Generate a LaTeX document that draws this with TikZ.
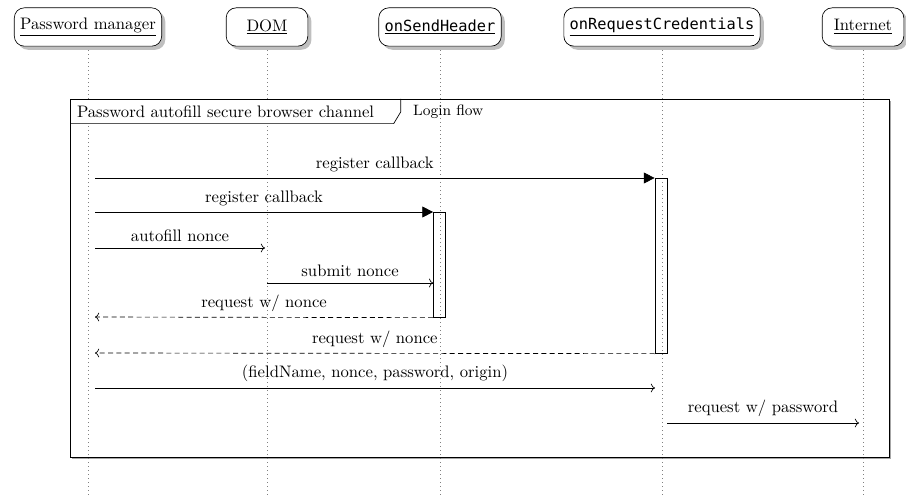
\documentclass[tikz,border=0pt]{standalone}
\usepackage{fontspec}
\setmonofont[Scale=0.92]{DejaVu Sans Mono}
\usetikzlibrary{positioning,shadows,arrows.meta}
\tikzstyle{inst} = [draw, rectangle, rounded corners=6pt, fill=white, drop shadow, minimum width=49pt, minimum height=23pt, inner xsep=3.5pt]
\tikzstyle{lifeline} = [draw, dotted, gray]
\tikzstyle{frame} = [draw, fill=white, drop shadow={shadow xshift=1pt, shadow yshift=-1pt, opacity=0.7}]
\tikzstyle{act} = [draw, rectangle, minimum width=7.2pt, inner sep=0pt, anchor=north]
\tikzstyle{call} = [draw, -{Triangle[length=6.5pt,width=6.5pt]}]
\tikzstyle{msg} = [draw, ->]
\tikzstyle{reply} = [draw, dash pattern=on 3pt off 2pt, ->]

\begin{document}
\begin{tikzpicture}[x=0.6pt, y=-0.6pt]
    \useasboundingbox (0,0) rectangle (906,495);
    % Frame
    \coordinate (frame-nw) at (70,99);
    \coordinate (frame-se) at (889,457);
    \path [frame] (frame-nw) rectangle (frame-se);
    % Place instances
    \node [inst] (pm) at (88,27) {\underline{Password manager}};
    \node [inst] (dom) at (267,27) {\underline{DOM}};
    \node [inst] (osh) at (440,27) {\underline{\texttt{onSendHeader}}};
    \node [inst] (orc) at (662,27) {\underline{\texttt{onRequestCredentials}}};
    \node [inst] (net) at (863,27) {\underline{Internet}};
    % Lifelines
    \foreach \n in {pm,dom,osh,orc,net}
        \path [lifeline] (\n.south) -- (\n.south |- 0,495);
    % Frame label
    \node [anchor=north west, fill=white, text width=190pt, inner xsep=4pt, inner ysep=2pt, minimum height=14.4pt] (frame-label) at (frame-nw) {Password autofill secure browser channel};
    \draw (frame-se |- frame-nw) -- (frame-nw) -- (frame-nw |- frame-se);
    \draw (frame-label.north east) -- ++(0,13) -- ([xshift=-4.2pt]frame-label.south east) -- (frame-label.south west);
    \node [right=4pt of frame-label, font=\small] (frame-title) {Login flow};
    % Activations
    \node [act, minimum height=105pt] (orc-act) at (661,178) {};
    \node [act, minimum height=63pt] (osh-act) at (439.5,212) {};
    % Message ends
    \coordinate (pm-1) at (95,178);
    \coordinate (pm-2) at (95,212);
    \coordinate (pm-3) at (95,248);
    \coordinate (dom-3) at (265,248);
    \coordinate (dom-4) at (267,283);
    \coordinate (pm-5) at (95,317);
    \coordinate (pm-6) at (95,353);
    \coordinate (pm-7) at (95,388);
    \coordinate (orc-7) at (655,388);
    \coordinate (orc-8) at (667,423);
    \coordinate (net-8) at (859,423);
    % Draw messages
    \path [call] (pm-1) -- node [above] {register callback} (orc-act.north west);
    \path [call] (pm-2) -- node [above] {register callback} (osh-act.north west);
    \path [msg] (pm-3) -- node [above] {autofill nonce} (dom-3);
    \path [msg] (dom-4) -- node [above] {submit nonce} (osh-act.west |- dom-4);
    \path [reply] (osh-act.south west) -- node [above] {request w/ nonce} (pm-5);
    \path [reply] (orc-act.south west) -- node [above] {request w/ nonce} (pm-6);
    \path [msg] (pm-7) -- node [above] {(fieldName, nonce, password, origin)} (orc-7);
    \path [msg] (orc-8) -- node [above] {request w/ password} (net-8);
\end{tikzpicture}
\end{document}
